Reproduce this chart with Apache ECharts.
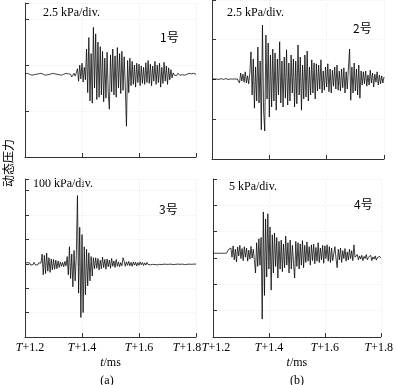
<!DOCTYPE html>
<html>
<head>
<meta charset="utf-8">
<script src="https://cdn.jsdelivr.net/npm/echarts@6/dist/echarts.min.js"></script>
<style>html,body{margin:0;padding:0;background:#fff}#c{width:396px;height:385px}</style>
</head>
<body>
<div id="c"></div>
<script>
// x tick labels (ms after T)
const tickValues = [1.2, 1.4, 1.6, 1.8];
const sampleStart = 1.2, sampleStep = 0.004; // sampling of the traces, ms
// trace values in hundredths of a division
const gauge1 = [1,-2,2,-1,0,2,-2,1,-1,2,0,-2,1,-1,2,-2,0,1,-2,2,-1,1,0,-2,2,-1,1,-2,0,2,-1,1,-2,2,0,-1,2,-2,1,-1,0,
  -6,-3,2,-4,3,
  12,-15,20,-10,24,-17,15,-12,
  55,-40,80,-58,45,-63,102,-30,88,-55,70,-50,60,
  -45,50,-60,35,-52,48,-40,-76,42,
  -38,55,-45,40,-50,58,-30,45,-42,50,-35,38,-28,-113,30,-40,35,
  -25,28,-22,20,-28,24,-18,22,-25,18,-20,15,-22,
  25,-18,30,-20,22,-25,18,-15,28,-22,20,-18,24,-28,15,-20,26,-15,18,-22,14,-12,10,-8,
  3,-2,1,-3,2,0,-2,2,-1,1,-2,2,0,-1,2,-2,1,-1,2,-1,0];
const gauge2 = [0,1,0,-1,0,1,-1,0,1,0,-1,0,1,0,-1,1,0,-1,0,1,0,-1,0,1,
  -10,15,-5,12,-8,18,-10,8,-12,14,
  68,-40,50,-73,30,-55,80,-60,45,-127,135,-80,-130,110,-50,90,-95,60,-70,75,
  -55,65,-78,50,-40,93,-60,45,-70,55,-48,73,-65,40,-55,60,-35,50,-70,45,-62,85,-40,55,-78,35,-50,60,-45,70,-55,30,-40,48,-35,40,-50,38,
  -30,35,-25,48,-35,20,-28,30,-20,38,-32,25,-35,22,-18,30,-25,35,-28,20,-30,25,-22,28,-35,18,-25,30,
  75,-53,30,-35,40,-30,25,-40,35,-48,20,
  -15,18,-12,20,-18,10,-15,22,-10,15,-20,12,-8,18,-15,10,-12,8,-10,5];
const gauge3 = [3,-4,5,-2,4,-5,2,-3,6,-4,3,-5,4,-2,3,
  40,-45,35,-40,44,-30,25,-35,20,-25,18,-22,15,-20,12,-15,
  8,-10,6,-12,10,-8,
  30,-45,70,-60,40,-94,55,-70,35,
  280,
  -120,150,-220,120,-200,
  70,-127,60,-90,45,-70,30,-50,25,
  -20,25,-18,22,-25,15,-20,28,-15,18,-22,20,-12,15,-18,22,-10,12,-15,18,-10,8,-12,
  5,-8,25,10,-10,8,-6,
  10,-8,6,-10,8,-5,7,-9,5,-6,8,-4,6,-7,4,-5,6,-3,5,-4,
  3,-2,4,-3,2,-4,3,-2,1,-3,2,-1,3,-2,1,-2,3,-1,2,-3,1,-2,2,-1,3,-2,1,-1,2,-3,1,-2,2,-1,1,-2,3,-1,2,-1];
const gauge4 = [0,0,0,0,0,0,0,0,0,0,0,0,0,0,
  15,8,
  20,-15,28,-25,15,-33,24,-10,30,-20,18,-28,25,-15,20,-30,12,-22,26,-18,15,-25,
  -75,40,-50,55,-45,60,
  -250,157,-160,130,-90,
  150,-60,100,-140,70,
  -75,77,-50,60,-94,45,-60,50,-70,35,-55,65,-45,40,-75,50,-60,30,-40,
  -94,45,-50,40,-60,35,-45,48,-55,30,
  -35,43,-30,25,-45,32,-28,35,-40,22,-30,40,-35,20,-25,30,-38,28,-20,32,-30,25,-35,20,-28,
  -30,25,-20,-55,15,-25,20,-35,10,-20,18,-30,5,-25,15,-20,10,-28,32,-15,
  -20,-5,-25,-10,-22,-8,-28,-12,-20,-5,-25,-15,-18,-8,-28,-14,-22,-10,-26,-16,-20,-12,-18];
const scaleTexts = ['2.5 kPa/div.', '2.5 kPa/div.', '100 kPa/div.', '5 kPa/div.'];
const gaugeNames = ['1号', '2号', '3号', '4号'];

const serif = '"Liberation Serif","DejaVu Serif",serif';
const cjk = '"Noto Sans CJK SC",sans-serif';
const traces = [gauge1, gauge2, gauge3, gauge4];
const panels = [
  {left:25, top:3, width:171, height:154, max:3.35, base:1.8},
  {left:212, top:0, width:172, height:159, max:3.975, base:2.0},
  {left:25, top:179, width:171, height:158, max:6.48, base:3.0, shiftFirst:5, shiftLast:-9},
  {left:213, top:179, width:171, height:158, max:6.0, base:3.18, shiftFirst:3, shiftLast:-2}
];
const chart = echarts.init(document.getElementById('c'), null, {renderer:'canvas'});
const grid = [], xAxis = [], yAxis = [], series = [];
const lbl = {fontFamily:serif, fontSize:12, color:'#000'};
panels.forEach((p, k) => {
  const bottomRow = k >= 2;
  grid.push({left:p.left, top:p.top, width:p.width, height:p.height, containLabel:false});
  const rich = {
    i:Object.assign({fontStyle:'italic'}, lbl), n:Object.assign({}, lbl),
    iF:Object.assign({fontStyle:'italic', padding:[0,0,0,2*Math.max(0,p.shiftFirst||0)]}, lbl),
    nL:Object.assign({padding:[0,2*Math.max(0,-(p.shiftLast||0)),0,0]}, lbl)
  };
  xAxis.push({type:'value', gridIndex:k, min:1.2, max:1.8, interval:0.2,
    axisLine:{lineStyle:{color:'#333', width:1}},
    axisTick:{inside:true, length:4, lineStyle:{color:'#333'}},
    splitLine:{show:true, lineStyle:{color:'#eeeeee', type:'dotted'}},
    axisLabel:{show:bottomRow, margin:5, color:'#000', fontFamily:serif, fontSize:12,
      formatter: v => {
        const s = v.toFixed(1);
        if (s === tickValues[0].toFixed(1)) return '{iF|T}{n|+' + s + '}';
        if (s === tickValues[tickValues.length-1].toFixed(1)) return '{i|T}{nL|+' + s + '}';
        return '{i|T}{n|+' + s + '}';
      },
      rich},
    name: bottomRow ? '{i|t}{n|/ms}' : '', nameLocation:'middle', nameGap:20,
    nameTextStyle:Object.assign({rich:{i:Object.assign({fontStyle:'italic'}, lbl), n:Object.assign({}, lbl)}}, lbl)
  });
  yAxis.push({type:'value', gridIndex:k, min:0, max:p.max, interval:1,
    axisLine:{show:true, lineStyle:{color:'#333', width:1}},
    axisTick:{show:true, inside:true, length:4, lineStyle:{color:'#333'}},
    axisLabel:{show:false},
    splitLine:{show:true, lineStyle:{color:'#eeeeee', type:'dotted'}}
  });
  const vals = traces[k];
  series.push({type:'line', xAxisIndex:k, yAxisIndex:k, showSymbol:false, symbol:'none',
    animation:false, lineStyle:{color:'#000', width:0.75},
    data: vals.map((v, i) => [sampleStart + i*sampleStep, p.base + v/100])});
});
const txt = (x, y, text, font, size) => ({type:'text', x, y,
  style:{text, fontFamily:font, fontSize:size, fill:'#000', textVerticalAlign:'middle', textAlign:'left'}});
const graphic = [
  txt(43, 13, scaleTexts[0], serif, 12),
  txt(160, 37, gaugeNames[0], cjk, 12),
  txt(227, 13, scaleTexts[1], serif, 12),
  txt(353, 28, gaugeNames[1], cjk, 12),
  txt(33, 184, scaleTexts[2], serif, 12),
  txt(159, 209, gaugeNames[2], cjk, 12),
  txt(229, 187, scaleTexts[3], serif, 12),
  txt(354, 204, gaugeNames[3], cjk, 12),
  {type:'text', x:8, y:163, rotation:Math.PI/2,
    style:{text:'动态压力', fontFamily:cjk, fontSize:12, fill:'#000', textAlign:'center', textVerticalAlign:'middle'}},
  {type:'text', x:107, y:381, style:{text:'(a)', fontFamily:serif, fontSize:12, fill:'#000', textAlign:'center', textVerticalAlign:'middle'}},
  {type:'text', x:297, y:381, style:{text:'(b)', fontFamily:serif, fontSize:12, fill:'#000', textAlign:'center', textVerticalAlign:'middle'}}
];
chart.setOption({animation:false, backgroundColor:'#fff', grid, xAxis, yAxis, series, graphic});
</script>
</body>
</html>
